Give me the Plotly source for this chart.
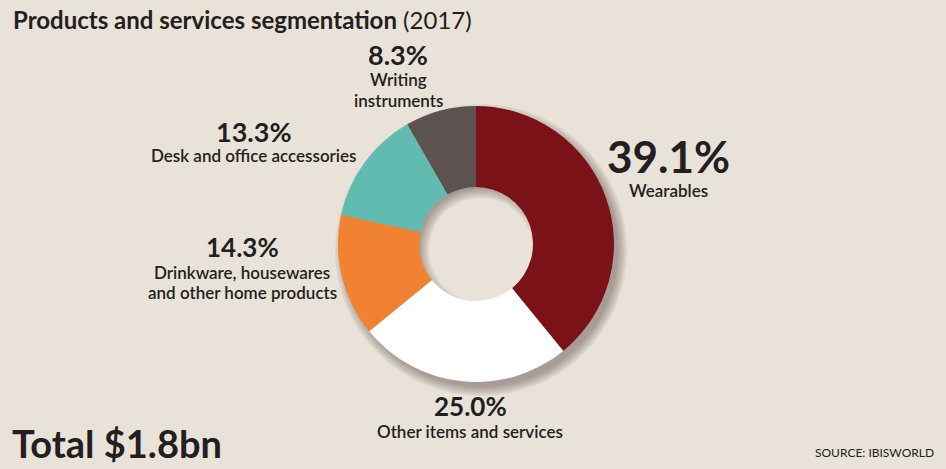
import plotly.graph_objects as go

W, H = 946, 469

categories = ["Wearables", "Other items and services",
              "Drinkware, housewares<br>and other home products",
              "Desk and office accessories", "Writing<br>instruments"]
values = [39.1, 25.0, 14.3, 13.3, 8.3]
colors = ["#7A1218", "#FFFFFF", "#F08232", "#62BBB1", "#5C524F"]
shadow_values = [1]

BG = "#E8E2D8"
TXT = "#231F20"
FONT = "Lato"

cx, cy, r, r_in = 476, 244, 138, 57


def px(x):
    return x / W


def py(y):
    return 1 - y / H


def dom(x0, y0, rad):
    return dict(x=[px(x0 - rad), px(x0 + rad)], y=[py(y0 + rad), py(y0 - rad)])


fig = go.Figure()

# soft drop shadow (decorative), offset to lower right
for k in range(7):
    outer = r - 1 + 1.5 * k
    inner = 52 + 1.6 * k
    fig.add_trace(go.Pie(
        values=shadow_values, sort=False, hole=inner / outer, textinfo="none",
        hoverinfo="skip", marker=dict(colors=["rgba(50,40,30,0.06)"], line=dict(width=0)),
        domain=dom(cx + 5, cy + 6, outer), showlegend=False,
    ))

fig.add_trace(go.Pie(
    labels=categories, values=values, sort=False, direction="clockwise",
    rotation=0, hole=r_in / r, textinfo="none", hoverinfo="label+percent",
    marker=dict(colors=colors, line=dict(width=0)),
    domain=dom(cx, cy, r), showlegend=False,
))

# label layout (pixels): centre x, pct y, pct font size, first name-line y
label_pos = [
    (668, 156, 44, 191),
    (470, 406, 26, 431),
    (242, 247, 26, 272),
    (254, 131, 27, 156),
    (398, 55, 27, 80),
]
LINE = 20

ann = []
for cat, v, (x, yp, s, yn) in zip(categories, values, label_pos):
    ann.append(dict(x=px(x), y=py(yp), xref="paper", yref="paper",
                    text=f"<b>{v:.1f}%</b>", showarrow=False,
                    xanchor="center", yanchor="middle",
                    font=dict(family=FONT, size=s, color=TXT)))
    for i, line in enumerate(cat.split("<br>")):
        ann.append(dict(x=px(x), y=py(yn + i * LINE), xref="paper", yref="paper",
                        text=line, showarrow=False, align="center",
                        xanchor="center", yanchor="middle",
                        font=dict(family=FONT, size=17, color=TXT, weight=600)))

ann.append(dict(x=px(11), y=py(20), xref="paper", yref="paper",
                text="<b>Products and services segmentation</b> (2017)",
                showarrow=False, xanchor="left", yanchor="middle",
                font=dict(family=FONT, size=24, color=TXT)))
ann.append(dict(x=px(10), y=py(443), xref="paper", yref="paper",
                text="<b>Total $1.8bn</b>", showarrow=False,
                xanchor="left", yanchor="middle",
                font=dict(family=FONT, size=38, color=TXT)))
ann.append(dict(x=px(936), y=py(452), xref="paper", yref="paper",
                text="SOURCE: IBISWORLD", showarrow=False,
                xanchor="right", yanchor="middle",
                font=dict(family=FONT, size=12, color=TXT)))

fig.update_layout(
    width=W, height=H, paper_bgcolor=BG, plot_bgcolor=BG,
    margin=dict(l=0, r=0, t=0, b=0), annotations=ann,
)

fig.write_html("out.html", config={"displayModeBar": False},
               post_script="document.body.style.margin='0';document.body.style.overflow='hidden';")
